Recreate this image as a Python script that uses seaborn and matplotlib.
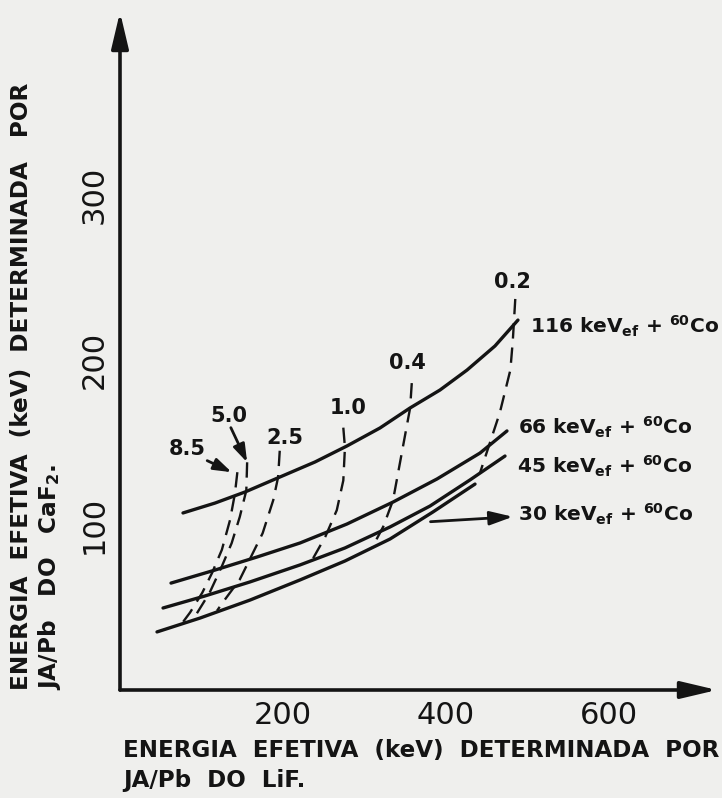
import matplotlib
matplotlib.use("Agg")
import matplotlib.pyplot as plt
import seaborn as sns

# ---------------- data ----------------
# solid curves : <energy> keV_ef + 60Co
energies = ["116", "66", "45", "30"]
x_116 = [77.3, 116.6, 153.4, 196.3, 239.3, 278.5, 319.0, 355.8, 392.6, 425.8, 460.1, 488.3]
y_116 = [107.3, 113.3, 120.0, 129.1, 138.2, 147.9, 158.8, 170.9, 181.8, 193.9, 208.5, 224.2]
x_66 = [62.6, 116.6, 168.1, 220.9, 278.5, 335.0, 389.0, 441.7, 474.8]
y_66 = [64.8, 72.7, 80.6, 89.1, 100.6, 113.9, 127.9, 143.6, 157.0]
x_45 = [52.8, 104.3, 159.5, 220.9, 276.1, 331.3, 380.4, 429.4, 472.4]
y_45 = [49.7, 57.0, 65.5, 75.8, 86.1, 98.8, 111.5, 127.3, 141.8]
x_30 = [45.4, 98.2, 159.5, 220.9, 276.1, 331.3, 384.0, 435.6]
y_30 = [35.2, 43.6, 54.5, 66.7, 78.2, 91.5, 107.9, 124.8]

# dashed curves (ratios)
ratios = ["8.5", "5.0", "2.5", "1.0", "0.4", "0.2"]
x_r85 = [144, 141, 135, 125, 113, 101, 86, 77]
y_r85 = [132, 119, 103, 85, 71, 59, 47, 41]
x_r50 = [156, 155, 147, 137, 125, 110, 90]
y_r50 = [138, 121, 105, 89, 75, 59, 43]
x_r25 = [196, 194, 188, 175, 163, 147, 126, 119]
y_r25 = [145, 129, 115, 95, 83, 67, 53, 48]
x_r10 = [274, 276, 274, 266, 252, 236]
y_r10 = [159, 147, 127, 109, 93, 79]
x_r04 = [358, 356, 347, 335, 323, 309]
y_r04 = [186, 171, 147, 115, 99, 86]
x_r02 = [485, 482, 479, 466, 454, 442]
y_r02 = [237, 212, 194, 168, 150, 132]

x_ticks = [200, 400, 600]
x_minor = [100, 300, 500]
y_ticks = [100, 200, 300]

xlabel_lines = ["ENERGIA  EFETIVA  (keV)  DETERMINADA  POR", "JA/Pb  DO  LiF."]
ylabel_lines = ["ENERGIA  EFETIVA  (keV)  DETERMINADA   POR", "JA/Pb   DO   CaF$_2$."]

# ---------------- style ----------------
sns.set_theme(style="white")
INK = "#141414"
BG = "#efefed"
plt.rcParams["font.family"] = ["DejaVu Sans"]
plt.rcParams["mathtext.fontset"] = "custom"
for k in ("rm", "it", "bf", "sf"):
    plt.rcParams["mathtext." + k] = "DejaVu Sans:bold"
plt.rcParams["mathtext.default"] = "regular"

W, H = 722, 798
fig = plt.figure(figsize=(W / 100, H / 100), dpi=100, facecolor=BG)
left_px, right_px, top_px, bot_px = 120, 717, 12, 690
ax = fig.add_axes([left_px / W, 1 - bot_px / H, (right_px - left_px) / W, (bot_px - top_px) / H])
ax.set_facecolor(BG)
ax.set_xlim(0, (right_px - left_px) / 0.815)
ax.set_ylim(0, (bot_px - top_px) / 1.65)
for s in ax.spines.values():
    s.set_visible(False)

# axes with arrows
arrow_style = "-|>,head_length=1.1,head_width=0.26"
ax.annotate("", xy=(1, 0), xytext=(0, 0), xycoords="axes fraction",
            arrowprops=dict(arrowstyle=arrow_style, lw=2.6, color=INK,
                            mutation_scale=20, shrinkA=0, shrinkB=0))
ax.annotate("", xy=(0, 1), xytext=(0, 0), xycoords="axes fraction",
            arrowprops=dict(arrowstyle=arrow_style, lw=2.6, color=INK,
                            mutation_scale=20, shrinkA=0, shrinkB=0))

# ticks
ax.set_xticks(x_ticks)
ax.set_xticks(x_minor, minor=True)
ax.set_yticks(y_ticks)
ax.tick_params(axis="x", which="major", direction="in", length=19, width=1.6,
               color=INK, pad=8, labelsize=22, labelcolor=INK)
ax.tick_params(axis="x", which="minor", direction="in", length=11, width=1.6, color=INK)
ax.tick_params(axis="y", which="major", direction="in", length=17, width=1.6,
               color=INK, pad=8, labelsize=22, labelcolor=INK)
plt.setp(ax.get_yticklabels(), rotation=90, va="center")
ax.set_xlabel("")
ax.set_ylabel("")

# solid curves
solid = {"116": (x_116, y_116), "66": (x_66, y_66), "45": (x_45, y_45), "30": (x_30, y_30)}
for e in energies:
    xs, ys = solid[e]
    sns.lineplot(x=xs, y=ys, sort=False, estimator=None, color=INK, lw=2.4, ax=ax,
                 solid_joinstyle="round", solid_capstyle="round")

# dashed curves
dashed = {"8.5": (x_r85, y_r85), "5.0": (x_r50, y_r50), "2.5": (x_r25, y_r25),
          "1.0": (x_r10, y_r10), "0.4": (x_r04, y_r04), "0.2": (x_r02, y_r02)}
for r in ratios:
    xs, ys = dashed[r]
    sns.lineplot(x=xs, y=ys, sort=False, estimator=None, color=INK, lw=1.7,
                 linestyle=(0, (6.5, 3.8)), ax=ax, dash_joinstyle="round")

# curve labels
curve_lab_pos = {"116": (503, 216), "66": (488, 155), "45": (487, 131.5), "30": (488, 102)}
for e in energies:
    x0, y0 = curve_lab_pos[e]
    ax.text(x0, y0, f"{e} keV$_{{ef}}$ + $^{{60}}$Co", fontsize=14.5, weight="bold",
            color=INK, ha="left", va="baseline")
ax.annotate("", xy=(482, 105), xytext=(381, 102),
            arrowprops=dict(arrowstyle="-|>,head_length=1.0,head_width=0.3", lw=2.0,
                            color=INK, mutation_scale=14, shrinkA=0, shrinkB=0))

# ratio labels
ratio_lab_pos = {"8.5": (83, 146), "5.0": (133, 166), "2.5": (202, 153),
                 "1.0": (280, 171), "0.4": (353, 198), "0.2": (481, 247)}
for r in ratios:
    x0, y0 = ratio_lab_pos[r]
    ax.text(x0, y0, r, fontsize=15, weight="bold", color=INK, ha="center", va="center")
ax.annotate("", xy=(137, 132), xytext=(107, 139),
            arrowprops=dict(arrowstyle="-|>,head_length=0.9,head_width=0.3", lw=2.0,
                            color=INK, mutation_scale=12, shrinkA=0, shrinkB=0))
ax.annotate("", xy=(156, 138), xytext=(136, 159),
            arrowprops=dict(arrowstyle="-|>,head_length=0.9,head_width=0.3", lw=2.0,
                            color=INK, mutation_scale=12, shrinkA=0, shrinkB=0))

# axis titles (two lines each), sized to the reference widths
fig.canvas.draw()
renderer = fig.canvas.get_renderer()

def fitted(t, target_px, horizontal=True):
    bb = t.get_window_extent(renderer)
    size = bb.width if horizontal else bb.height
    t.set_fontsize(t.get_fontsize() * target_px / size)
    return t.get_fontsize()

tx1 = fig.text(123 / W, 1 - 750 / H, xlabel_lines[0], fontsize=15, weight="bold",
               color=INK, ha="left", va="center")
fs = fitted(tx1, 595)
fig.text(123 / W, 1 - 780 / H, xlabel_lines[1], fontsize=fs, weight="bold",
         color=INK, ha="left", va="center")

ty1 = fig.text(22 / W, 1 - 690 / H, ylabel_lines[0], fontsize=15, weight="bold",
               color=INK, ha="center", va="bottom", rotation=90)
fs = fitted(ty1, 605, horizontal=False)
fig.text(50 / W, 1 - 690 / H, ylabel_lines[1], fontsize=fs, weight="bold",
         color=INK, ha="center", va="bottom", rotation=90)

fig.savefig("out.png", dpi=100, facecolor=BG)
